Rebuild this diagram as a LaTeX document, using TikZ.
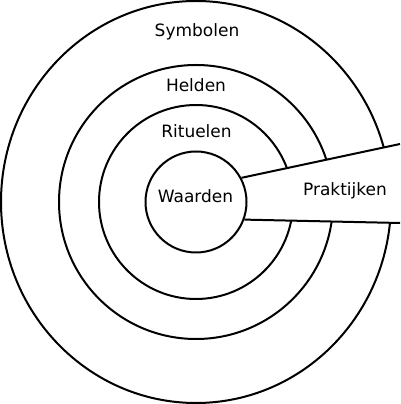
\documentclass[tikz,border=0pt]{standalone}
\usepackage{fontspec}
\setmainfont{DejaVu Sans}

\begin{document}
\begin{tikzpicture}[x=1pt,y=1pt,
    ring/.style={line width=2pt},
    lbl/.style={font=\fontsize{17}{20}\selectfont,anchor=base,inner sep=0pt}]
  \useasboundingbox (0,0) rectangle (400,404);
  \coordinate (c) at (196,202);
  \coordinate (pu) at (400,260);
  \coordinate (pl) at (400,181);
  % rings
  \draw[ring] (c) ellipse [x radius=195,y radius=201];
  \draw[ring] (c) circle [radius=137];
  \draw[ring] (c) circle [radius=97];
  % wedge
  \fill[white] (c) -- ([shift={(28.6:50)}]c) -- (pu) -- (pl) -- ([shift={(-20.3:50)}]c) -- cycle;
  \node[circle,draw,ring,fill=white,minimum size=101,inner sep=0pt] (kern) at (c) {};
  \draw[ring] (kern.28.6) -- (pu);
  \draw[ring] (kern.-20.3) -- (pl);
  % labels
  \node[lbl] (symbolen) at (197,367) {Symbolen};
  \node[lbl] (helden) at (196,312) {Helden};
  \node[lbl] (rituelen) at (196.5,266) {Rituelen};
  \node[lbl] (waarden) at (195.5,201) {Waarden};
  \node[lbl] (praktijken) at (345,208) {Praktijken};
\end{tikzpicture}
\end{document}
